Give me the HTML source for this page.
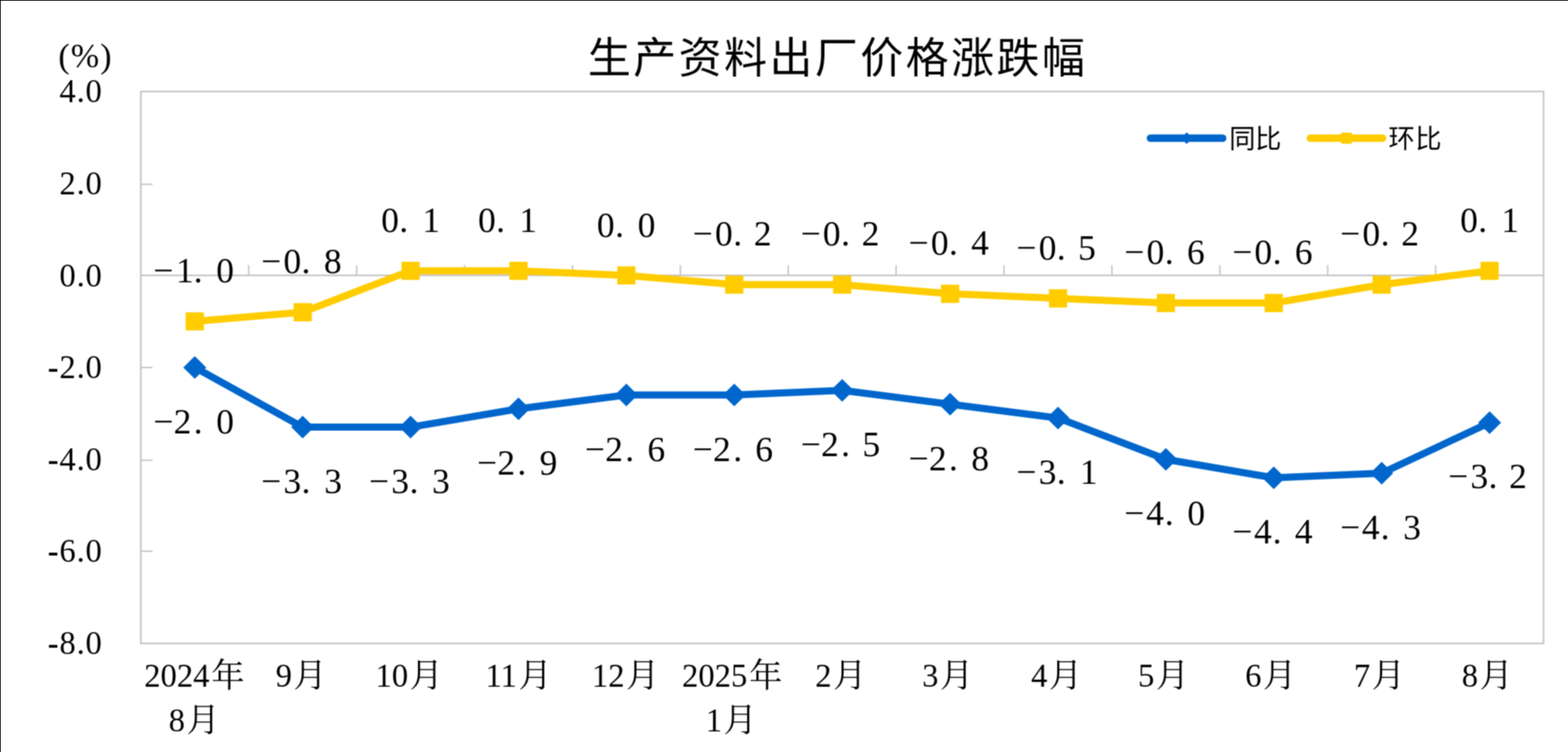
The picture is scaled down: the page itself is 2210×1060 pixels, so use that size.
<!DOCTYPE html>
<html lang="zh-CN">
<head>
<meta charset="utf-8">
<title>生产资料出厂价格涨跌幅</title>
<style>
html,body{margin:0;padding:0;background:#fff;}
body{width:2210px;height:1060px;overflow:hidden;position:relative;font-family:"Liberation Serif",serif;}
#chart{position:absolute;left:0;top:0;width:2210px;height:1060px;box-sizing:border-box;border-top:1px solid #000;border-left:1px solid #000;background:#fff;}
#chart svg{position:absolute;left:-1px;top:-1px;will-change:transform;}
svg text{font-family:"Liberation Serif",serif;fill:#000;}
svg text.hei{font-family:"Liberation Sans","Noto Sans CJK SC",sans-serif;}
svg text.song{font-family:"Liberation Serif","Noto Serif CJK SC",serif;}
</style>
</head>
<body>
<div id="chart">
<svg width="2210" height="1060" viewBox="0 0 2210 1060">
<defs><filter id="soft" x="0" y="0" width="2210" height="1060" filterUnits="userSpaceOnUse" color-interpolation-filters="sRGB"><feConvolveMatrix order="3" kernelMatrix="1 2 1 2 4 2 1 2 1" divisor="16" edgeMode="duplicate" preserveAlpha="false"/></filter></defs>
<g filter="url(#soft)">
<g fill="none" stroke="#c4c4c4">
<rect x="198.5" y="129.0" width="1977.0" height="778.0" stroke-width="2.3"/>
<line x1="198.5" y1="388.2" x2="2175.5" y2="388.2" stroke-width="2.3"/>
<path d="M198.5 259.7h16.5M198.5 518.0h16.5M198.5 648.8h16.5M198.5 776.9h16.5M350.6 388.2v-14.5M502.7 388.2v-14.5M654.7 388.2v-14.5M806.8 388.2v-14.5M958.9 388.2v-14.5M1111.0 388.2v-14.5M1263.0 388.2v-14.5M1415.1 388.2v-14.5M1567.2 388.2v-14.5M1719.3 388.2v-14.5M1871.3 388.2v-14.5M2023.4 388.2v-14.5" stroke-width="2"/>
</g>
<polyline points="274.5,453.0 426.6,440.1 578.7,381.7 730.8,381.7 882.8,388.2 1034.9,401.2 1187.0,401.2 1339.1,414.1 1491.2,420.6 1643.2,427.1 1795.3,427.1 1947.4,401.2 2099.5,381.7" fill="none" stroke="#ffcc00" stroke-width="10" stroke-linejoin="round" stroke-linecap="round"/>
<path d="M261.7 440.2h25.6v25.6h-25.6zM413.8 427.3h25.6v25.6h-25.6zM565.9 368.9h25.6v25.6h-25.6zM718.0 368.9h25.6v25.6h-25.6zM870.0 375.4h25.6v25.6h-25.6zM1022.1 388.4h25.6v25.6h-25.6zM1174.2 388.4h25.6v25.6h-25.6zM1326.3 401.3h25.6v25.6h-25.6zM1478.4 407.8h25.6v25.6h-25.6zM1630.4 414.3h25.6v25.6h-25.6zM1782.5 414.3h25.6v25.6h-25.6zM1934.6 388.4h25.6v25.6h-25.6zM2086.7 368.9h25.6v25.6h-25.6z" fill="#ffcc00"/>
<polyline points="274.5,517.9 426.6,602.1 578.7,602.1 730.8,576.2 882.8,556.8 1034.9,556.8 1187.0,550.3 1339.1,569.7 1491.2,589.2 1643.2,647.5 1795.3,673.5 1947.4,667.0 2099.5,595.7" fill="none" stroke="#0066cc" stroke-width="10" stroke-linejoin="round" stroke-linecap="round"/>
<path d="M274.5 501.9l16.2 16l-16.2 16l-16.2 -16zM426.6 586.1l16.2 16l-16.2 16l-16.2 -16zM578.7 586.1l16.2 16l-16.2 16l-16.2 -16zM730.8 560.2l16.2 16l-16.2 16l-16.2 -16zM882.8 540.8l16.2 16l-16.2 16l-16.2 -16zM1034.9 540.8l16.2 16l-16.2 16l-16.2 -16zM1187.0 534.3l16.2 16l-16.2 16l-16.2 -16zM1339.1 553.7l16.2 16l-16.2 16l-16.2 -16zM1491.2 573.2l16.2 16l-16.2 16l-16.2 -16zM1643.2 631.5l16.2 16l-16.2 16l-16.2 -16zM1795.3 657.5l16.2 16l-16.2 16l-16.2 -16zM1947.4 651.0l16.2 16l-16.2 16l-16.2 -16zM2099.5 579.7l16.2 16l-16.2 16l-16.2 -16z" fill="#0066cc"/>
<line x1="1621.4" y1="194.8" x2="1723.4" y2="194.8" stroke="#0066cc" stroke-width="10.4" stroke-linecap="round"/>
<path d="M1672.6 186.5l8.3 8.3l-8.3 8.3l-8.3 -8.3z" fill="#0066cc"/>
<line x1="1846.7" y1="194.8" x2="1948.7" y2="194.8" stroke="#ffcc00" stroke-width="10.4" stroke-linecap="round"/>
<rect x="1890.2" y="187.0" width="15" height="15.6" fill="#ffcc00"/>
<g aria-label="生产资料出厂价格涨跌幅"><title>生产资料出厂价格涨跌幅</title>
<text class="hei" x="828.45" y="103" font-size="60.6" letter-spacing="3.4">生产资料出厂价格涨跌幅</text>
</g>
<g aria-label="同比"><title>同比</title>
<text class="hei" x="1732.6 1769.0" y="208.7" font-size="37">同比</text>
</g>
<g aria-label="环比"><title>环比</title>
<text class="hei" x="1957.1 1994.8" y="208.7" font-size="37">环比</text>
</g>
<g font-size="46" text-anchor="end" letter-spacing="1.2">
<text x="144.8" y="143.8">4.0</text>
<text x="144.8" y="274.0">2.0</text>
<text x="144.8" y="404.4">0.0</text>
<text x="144.8" y="532.8"><tspan font-weight="bold">-</tspan>2.0</text>
<text x="144.8" y="663.2"><tspan font-weight="bold">-</tspan>4.0</text>
<text x="144.8" y="791.8"><tspan font-weight="bold">-</tspan>6.0</text>
<text x="144.8" y="921.8"><tspan font-weight="bold">-</tspan>8.0</text>
</g>
<text x="82.2" y="94.7" font-size="48" letter-spacing="1.5">(%)</text>
<g font-size="46" text-anchor="end">
<g aria-label="2024年"><text x="295.2" y="968.0">2024</text><text class="song" text-anchor="start" font-size="47" x="297.77" y="968.0">年</text></g>
<g aria-label="8月"><text x="260.7" y="1030.5">8</text><text class="song" text-anchor="start" font-size="47" x="262.74" y="1030.5">月</text></g>
<g aria-label="9月"><text x="411.4" y="968.0">9</text><text class="song" text-anchor="start" font-size="47" x="413.44" y="968.0">月</text></g>
<g aria-label="10月"><text x="575.3" y="968.0">10</text><text class="song" text-anchor="start" font-size="47" x="577.34" y="968.0">月</text></g>
<g aria-label="11月"><text x="728.6" y="968.0">11</text><text class="song" text-anchor="start" font-size="47" x="730.64" y="968.0">月</text></g>
<g aria-label="12月"><text x="880.3" y="968.0">12</text><text class="song" text-anchor="start" font-size="47" x="882.34" y="968.0">月</text></g>
<g aria-label="2025年"><text x="1053.3" y="968.0">2025</text><text class="song" text-anchor="start" font-size="47" x="1055.87" y="968.0">年</text></g>
<g aria-label="1月"><text x="1017.7" y="1030.5">1</text><text class="song" text-anchor="start" font-size="47" x="1019.74" y="1030.5">月</text></g>
<g aria-label="2月"><text x="1172.1" y="968.0">2</text><text class="song" text-anchor="start" font-size="47" x="1174.14" y="968.0">月</text></g>
<g aria-label="3月"><text x="1322.8" y="968.0">3</text><text class="song" text-anchor="start" font-size="47" x="1324.84" y="968.0">月</text></g>
<g aria-label="4月"><text x="1476.2" y="968.0">4</text><text class="song" text-anchor="start" font-size="47" x="1478.24" y="968.0">月</text></g>
<g aria-label="5月"><text x="1627.0" y="968.0">5</text><text class="song" text-anchor="start" font-size="47" x="1629.04" y="968.0">月</text></g>
<g aria-label="6月"><text x="1777.9" y="968.0">6</text><text class="song" text-anchor="start" font-size="47" x="1779.94" y="968.0">月</text></g>
<g aria-label="7月"><text x="1931.2" y="968.0">7</text><text class="song" text-anchor="start" font-size="47" x="1933.24" y="968.0">月</text></g>
<g aria-label="8月"><text x="2083.3" y="968.0">8</text><text class="song" text-anchor="start" font-size="47" x="2085.34" y="968.0">月</text></g>
</g>
<g font-size="50">
<g aria-label="−1.0"><title>−1.0</title><text x="215.9 248.0 273.0 304.8" y="398.35">−1.0</text></g>
<g aria-label="−0.8"><title>−0.8</title><text x="368.0 399.5 425.1 456.5" y="385.39">−0.8</text></g>
<g aria-label="0.1"><title>0.1</title><text x="537.2 562.8 595.2" y="327.04">0.1</text></g>
<g aria-label="0.1"><title>0.1</title><text x="673.7 699.3 731.7" y="327.04">0.1</text></g>
<g aria-label="0.0"><title>0.0</title><text x="841.3 867.0 898.7" y="333.52">0.0</text></g>
<g aria-label="−0.2"><title>−0.2</title><text x="976.3 1007.8 1033.4 1062.5" y="346.49">−0.2</text></g>
<g aria-label="−0.2"><title>−0.2</title><text x="1128.4 1159.8 1185.5 1214.6" y="346.49">−0.2</text></g>
<g aria-label="−0.4"><title>−0.4</title><text x="1280.5 1311.9 1337.5 1368.7" y="359.45">−0.4</text></g>
<g aria-label="−0.5"><title>−0.5</title><text x="1432.6 1464.0 1489.6 1519.5" y="365.94">−0.5</text></g>
<g aria-label="−0.6"><title>−0.6</title><text x="1584.6 1616.1 1641.7 1672.9" y="372.42">−0.6</text></g>
<g aria-label="−0.6"><title>−0.6</title><text x="1736.7 1768.1 1793.8 1825.0" y="372.42">−0.6</text></g>
<g aria-label="−0.2"><title>−0.2</title><text x="1888.8 1920.2 1945.9 1975.0" y="346.49">−0.2</text></g>
<g aria-label="0.1"><title>0.1</title><text x="2057.9 2083.6 2116.0" y="327.04">0.1</text></g>
<g aria-label="−2.0"><title>−2.0</title><text x="215.9 244.7 273.0 304.8" y="610.69">−2.0</text></g>
<g aria-label="−3.3"><title>−3.3</title><text x="368.0 399.6 425.1 457.0" y="694.97">−3.3</text></g>
<g aria-label="−3.3"><title>−3.3</title><text x="520.1 551.6 577.2 609.0" y="694.97">−3.3</text></g>
<g aria-label="−2.9"><title>−2.9</title><text x="672.2 701.0 729.2 760.6" y="669.04">−2.9</text></g>
<g aria-label="−2.6"><title>−2.6</title><text x="824.2 853.0 881.3 912.5" y="649.59">−2.6</text></g>
<g aria-label="−2.6"><title>−2.6</title><text x="976.3 1005.1 1033.4 1064.6" y="649.59">−2.6</text></g>
<g aria-label="−2.5"><title>−2.5</title><text x="1128.4 1157.2 1185.5 1215.4" y="643.10">−2.5</text></g>
<g aria-label="−2.8"><title>−2.8</title><text x="1280.5 1309.3 1337.5 1368.9" y="662.55">−2.8</text></g>
<g aria-label="−3.1"><title>−3.1</title><text x="1432.6 1464.1 1489.6 1522.0" y="682.00">−3.1</text></g>
<g aria-label="−4.0"><title>−4.0</title><text x="1584.6 1615.5 1641.7 1673.5" y="740.35">−4.0</text></g>
<g aria-label="−4.4"><title>−4.4</title><text x="1736.7 1767.5 1793.8 1824.9" y="766.29">−4.4</text></g>
<g aria-label="−4.3"><title>−4.3</title><text x="1888.8 1919.6 1945.9 1977.7" y="759.80">−4.3</text></g>
<g aria-label="−3.2"><title>−3.2</title><text x="2040.9 2072.4 2097.9 2127.1" y="688.49">−3.2</text></g>
</g>
</g>
</svg>
</div>
</body>
</html>
